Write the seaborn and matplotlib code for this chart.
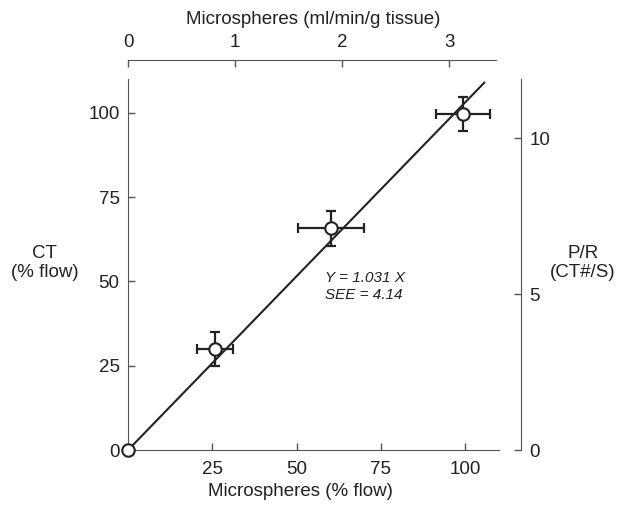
import numpy as np
import matplotlib
matplotlib.use('Agg')
import matplotlib.pyplot as plt
import seaborn as sns
import pandas as pd

sns.set_style('ticks')
plt.rcParams['font.family'] = ['Liberation Sans', 'DejaVu Sans']

# data
micro_pct = [0, 25.8, 60.1, 99.3]       # microspheres (% flow)
ct_pct = [0, 30.0, 65.8, 99.7]          # CT (% flow)
micro_err = [0, 5.3, 9.8, 8.0]
ct_err = [0, 5.0, 5.2, 5.0]
slope = 1.031
fit_x = [0, 105.7]
x_ticks = [25, 50, 75, 100]
y_ticks = [0, 25, 50, 75, 100]
top_ticks = [0, 1, 2, 3]
right_ticks = [0, 5, 10]

ink = '#222222'
spine_col = '#555555'
fs = 13.5

df = pd.DataFrame({'micro': micro_pct, 'ct': ct_pct,
                   'xerr': micro_err, 'yerr': ct_err})
fit = pd.DataFrame({'x': fit_x, 'y': [slope * v for v in fit_x]})

fig = plt.figure(figsize=(6.25, 5.08), dpi=100)
ax = fig.add_axes([0.2048, 0.114, 0.5936, 0.7305])

sns.lineplot(data=fit, x='x', y='y', color=ink, lw=1.5, ax=ax, zorder=2)
err = df[df['xerr'] > 0]
ax.errorbar(err['micro'], err['ct'], xerr=err['xerr'], yerr=err['yerr'],
            fmt='none', ecolor=ink, elinewidth=1.6, capsize=3.6, capthick=1.6, zorder=3)
sns.scatterplot(data=df, x='micro', y='ct', s=80, marker='o', facecolor='white',
                edgecolor=ink, linewidth=1.5, ax=ax, zorder=4, clip_on=False)

ax.set_xlim(0, 110)
ax.set_ylim(0, 110)
ax.set_xticks(x_ticks)
ax.set_yticks(y_ticks)
ax.tick_params(direction='in', length=5, width=1, colors=spine_col, labelcolor=ink, labelsize=fs)
ax.tick_params(axis='x', pad=8)
ax.tick_params(axis='y', pad=6)
for s in ['top', 'right']:
    ax.spines[s].set_visible(False)
for s in ['left', 'bottom']:
    ax.spines[s].set_color(spine_col)
ax.set_xlabel('Microspheres (% flow)', fontsize=fs, color=ink)
ax.xaxis.set_label_coords(0.464, -0.09)
ax.set_ylabel('CT\n(% flow)', fontsize=fs, color=ink, rotation=0, ha='center', va='center',
              linespacing=1.2)
ax.yaxis.set_label_coords(-0.224, 0.504)

ax.text(58.5, 48.5, 'Y = 1.031 X\nSEE = 4.14', fontsize=11, style='italic', color=ink,
        va='center', ha='left', linespacing=1.2)

# right axis: P/R
ax2 = ax.twinx()
ax2.set_ylim(0, 11.9)
ax2.set_yticks(right_ticks)
for s in ['top', 'left', 'bottom']:
    ax2.spines[s].set_visible(False)
ax2.spines['right'].set_position(('outward', 16))
ax2.spines['right'].set_color(spine_col)
ax2.tick_params(direction='in', length=5, width=1, colors=spine_col, labelcolor=ink,
                labelsize=fs, pad=6)
ax2.set_ylabel('P/R\n(CT#/S)', fontsize=fs, color=ink, rotation=0, ha='center', va='center',
               linespacing=1.2)
ax2.yaxis.set_label_coords(1.226, 0.504)

# top axis: ml/min/g tissue
ax3 = ax.twiny()
ax3.set_xlim(0, 3.465)
ax3.set_xticks(top_ticks)
for s in ['right', 'left', 'bottom']:
    ax3.spines[s].set_visible(False)
ax3.spines['top'].set_position(('outward', 14))
ax3.spines['top'].set_color(spine_col)
ax3.spines['top'].set_bounds(0, 3.44)
ax3.tick_params(direction='in', length=5, width=1, colors=spine_col, labelcolor=ink,
                labelsize=fs, pad=6)
ax3.set_xlabel('Microspheres (ml/min/g tissue)', fontsize=fs, color=ink)
ax3.xaxis.set_label_coords(0.5, 1.148)

fig.savefig('out.png', dpi=100)
